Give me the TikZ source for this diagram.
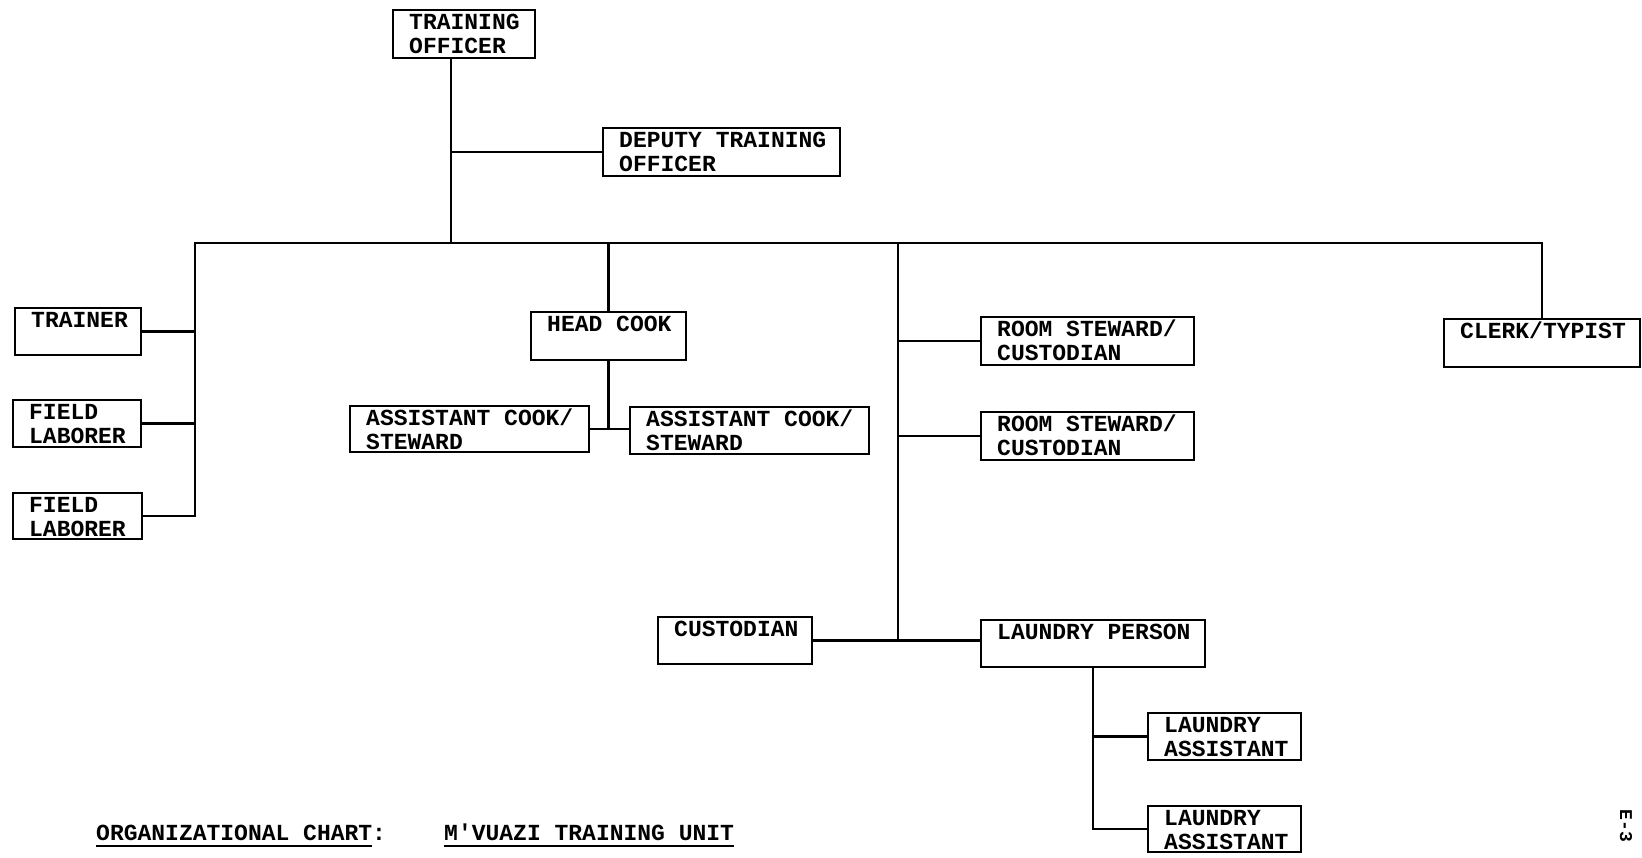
\documentclass[tikz,border=0pt]{standalone}
\usepackage{fontspec}
\newfontfamily\typew{Liberation Mono}
\newsavebox\ulbox
\newcommand\myul[1]{\sbox\ulbox{#1}\rlap{\rule[-7pt]{\wd\ulbox}{1.8pt}}\usebox\ulbox}
\tikzset{
  orgbox/.style={draw, line width=2.4pt, rectangle, inner sep=0pt, outer sep=0pt, anchor=north west},
  lbl/.style={anchor=north west, inner sep=0pt, align=left, font=\typew\bfseries\fontsize{23pt}{24pt}\selectfont},
  captxt/.style={anchor=base west, inner sep=0pt, font=\typew\bfseries\fontsize{23pt}{24pt}\selectfont},
  link/.style={line width=2.4pt},
}
\newcommand\orgbox[7]{%
  \node[orgbox, minimum width=#4pt, minimum height=#5pt] (#1) at (#2,#3) {};
  \node[lbl] (#1-t) at ([xshift=16pt]#1.north west) {\rule{0pt}{19pt}#6\\#7};}
\begin{document}
\begin{tikzpicture}[x=1pt,y=-1pt]
\fill[white] (0,0) rectangle (1642,858);
\useasboundingbox (0,0) rectangle (1642,858);

% boxes
\orgbox{to}{393}{10}{142}{48}{TRAINING}{OFFICER}
\orgbox{dep}{603}{128}{237}{48}{DEPUTY TRAINING}{OFFICER}
\orgbox{trn}{15}{308}{126}{47}{TRAINER}{}
\orgbox{fa}{13}{400}{128}{47}{FIELD}{LABORER}
\orgbox{fb}{13}{493}{129}{46}{FIELD}{LABORER}
\orgbox{hc}{531}{312}{155}{48}{HEAD COOK}{}
\orgbox{aa}{350}{406}{239}{46}{ASSISTANT COOK/}{STEWARD}
\orgbox{ab}{630}{407}{239}{47}{ASSISTANT COOK/}{STEWARD}
\orgbox{rsa}{981}{317}{213}{48}{ROOM STEWARD/}{CUSTODIAN}
\orgbox{rsb}{981}{412}{213}{48}{ROOM STEWARD/}{CUSTODIAN}
\orgbox{cu}{658}{617}{154}{47}{CUSTODIAN}{}
\orgbox{lp}{981}{620}{224}{47}{LAUNDRY PERSON}{}
\orgbox{laa}{1148}{713}{153}{47}{LAUNDRY}{ASSISTANT}
\orgbox{lab}{1148}{806}{153}{46}{LAUNDRY}{ASSISTANT}
\orgbox{ck}{1444}{319}{196}{48}{CLERK/TYPIST}{}

% junction coordinates
\coordinate (tkT) at (451,243);
\coordinate (tkL) at (195,243);
\coordinate (tkM) at (898,243);
\coordinate (tkR) at (1542,243);

% connectors
\draw[link] (to.south -| tkT) -- (tkT);
\draw[link] (dep.west -| tkT) -- (dep.west);
\draw[link] (fb.east) -- (fb.east -| tkL) -- (tkL) -- (tkR) -- (ck.north -| tkR);
\draw[link] (trn.east) -- (trn.east -| tkL);
\draw[link] (fa.east) -- (fa.east -| tkL);
\draw[link] (hc.north |- tkT) -- (hc.north);
\draw[link] (hc.south) -- (hc.south |- aa.east);
\draw[link] (aa.east) -- (aa.east -| ab.west);
\draw[link] (tkM) -- (tkM |- cu.east);
\draw[link] (rsa.west -| tkM) -- (rsa.west);
\draw[link] (rsb.west -| tkM) -- (rsb.west);
\draw[link] (cu.east) -- (cu.east -| lp.west);
\draw[link] (lp.south) -- (lp.south |- lab.west) -- (lab.west);
\draw[link] (laa.west -| lp.south) -- (laa.west);

% captions
\node[captxt] (capa) at (96,840) {\myul{ORGANIZATIONAL CHART}:};
\node[captxt] (capb) at (444,840) {\myul{M'VUAZI TRAINING UNIT}};
\node[inner sep=0pt, rotate=-90, font=\typew\bfseries\fontsize{18pt}{20pt}\selectfont] (pg) at (1626,826) {E-3};
\end{tikzpicture}
\end{document}
